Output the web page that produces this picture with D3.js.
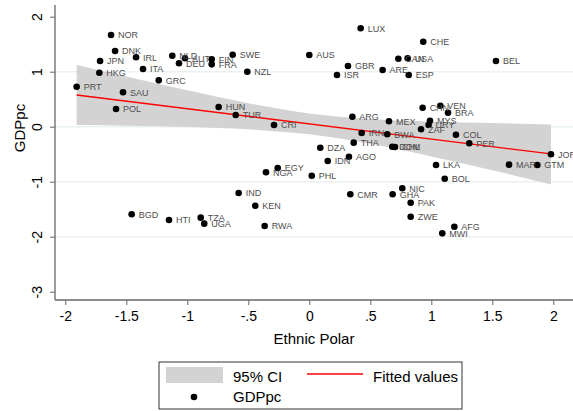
<!DOCTYPE html>
<html>
<head>
<meta charset="utf-8">
<script src="https://d3js.org/d3.v7.min.js"></script>
<style>
  body { margin: 0; background: #fff; }
  text { font-family: "Liberation Sans", Arial, Helvetica, sans-serif; }
</style>
</head>
<body>
<script>

// country codes, ethnic polarisation (x) and GDP per capita (y)
let countries = ["NOR","DNK","JPN","HKG","IRL","ITA","GRC","PRT","SAU","POL",
  "NLD","AUT","DEU","FIN","FRA","SWE","NZL","HUN","TUR","CRI",
  "LUX","AUS","GBR","ISR","ARE","ESP","CAN","USA","CHE","BEL",
  "ARG","MEX","CHN","VEN","BRA","MYS","URY","ZAF","COL","PER",
  "JOR","IRN","BWA","THA","DZA","DOM","CHL","IDN","AGO","PHL",
  "LKA","BOL","MAR","GTM","CMR","GHA","NIC","PAK","EGY","NGA",
  "IND","KEN","BGD","HTI","TZA","UGA","RWA","ZWE","AFG","MWI"];
let ethnicPolar = [-1.625,-1.592,-1.715,-1.721,-1.420,-1.363,-1.234,-1.907,-1.527,-1.584,
  -1.123,-1.019,-1.068,-0.800,-0.800,-0.628,-0.508,-0.743,-0.603,-0.289,
  0.421,0.0,0.317,0.227,0.601,0.815,0.730,0.806,0.934,1.530,
  0.353,0.653,0.929,1.074,1.137,0.989,0.978,0.916,1.202,1.311,
  1.981,0.429,0.639,0.364,0.090,0.680,0.702,0.151,0.325,0.020,
  1.039,1.110,1.637,1.869,0.336,0.683,0.762,0.831,-0.259,-0.355,
  -0.579,-0.443,-1.456,-1.150,-0.890,-0.861,-0.366,0.831,1.189,1.090];
let gdppc = [1.667,1.376,1.195,0.982,1.262,1.049,0.843,0.727,0.625,0.322,
  1.291,1.244,1.153,1.225,1.134,1.309,1.000,0.358,0.213,0.031,
  1.789,1.304,1.104,0.940,1.031,0.940,1.236,1.244,1.545,1.195,
  0.182,0.100,0.345,0.382,0.255,0.109,0.031,-0.047,-0.145,-0.302,
  -0.502,-0.115,-0.138,-0.290,-0.382,-0.364,-0.370,-0.624,-0.545,-0.891,
  -0.696,-0.945,-0.690,-0.696,-1.229,-1.229,-1.120,-1.382,-0.751,-0.829,
  -1.205,-1.436,-1.593,-1.696,-1.654,-1.763,-1.805,-1.636,-1.818,-1.939];

// fitted line end points and 95% CI band
let fitX = [-1.907, 1.981];
let fitY = [0.576, -0.494];
let ciX = [-1.907, -1.5, -1, -0.5, 0, 0.5, 1, 1.5, 1.981];
let ciLow = [0.032, 0.019, -0.005, -0.047, -0.138, -0.311, -0.540, -0.790, -1.050];
let ciHigh = [1.120, 0.913, 0.661, 0.427, 0.242, 0.139, 0.092, 0.066, 0.040];

let xTicks = [-2, -1.5, -1, -0.5, 0, 0.5, 1, 1.5, 2];
let xTickLabels = ["-2", "-1.5", "-1", "-.5", "0", ".5", "1", "1.5", "2"];
let yTicks = [-3, -2, -1, 0, 1, 2];
let yTickLabels = ["-3", "-2", "-1", "0", "1", "2"];
let yGrid = [-2, -1, 0, 1];

let width = 573, height = 411;
let plotLeft = 55, plotTop = 5, plotBottom = 300;

var x = d3.scaleLinear().domain([-2, 2]).range([65.3, 553.3]);
var y = d3.scaleLinear().domain([-3, 2]).range([291.7, 16.7]);

var svg = d3.select("body").append("svg").attr("width", width).attr("height", height);

// grid lines
svg.append("g").selectAll("line").data(yGrid).enter().append("line")
  .attr("x1", plotLeft).attr("x2", width)
  .attr("y1", d => y(d)).attr("y2", d => y(d))
  .attr("stroke", "#eaf2f3").attr("stroke-width", 1.5);

// CI band
var band = ciX.map((d, i) => ({x: d, lo: ciLow[i], hi: ciHigh[i]}));
svg.append("path").datum(band)
  .attr("d", d3.area().x(d => x(d.x)).y0(d => y(d.lo)).y1(d => y(d.hi)).curve(d3.curveMonotoneX))
  .attr("fill", "#d3d3d3");

// fitted line
svg.append("path").datum(fitX.map((d, i) => [d, fitY[i]]))
  .attr("d", d3.line().x(d => x(d[0])).y(d => y(d[1])))
  .attr("stroke", "#ff0000").attr("stroke-width", 1.3).attr("fill", "none");

// points + labels
var pts = countries.map((c, i) => ({name: c, x: ethnicPolar[i], y: gdppc[i]}));
svg.append("g").selectAll("circle").data(pts).enter().append("circle")
  .attr("cx", d => x(d.x)).attr("cy", d => y(d.y)).attr("r", 3.3)
  .attr("fill", "#000");
svg.append("g").selectAll("text").data(pts).enter().append("text")
  .attr("x", d => x(d.x) + 7).attr("y", d => y(d.y) + 3.3)
  .attr("font-size", "9px").attr("fill", "#4d4d4d")
  .text(d => d.name);

// axes
var xAxis = svg.append("g").attr("transform", "translate(0," + plotBottom + ")")
  .call(d3.axisBottom(x).tickValues(xTicks).tickSize(5).tickPadding(6)
    .tickFormat((d, i) => xTickLabels[i]));
xAxis.select(".domain").remove();
xAxis.selectAll("line").attr("stroke", "#666");
xAxis.selectAll("text").attr("font-size", "14px").attr("fill", "#000")
  .style("font-family", "'Liberation Sans', Arial, sans-serif");

var yAxis = svg.append("g").attr("transform", "translate(" + plotLeft + ",0)")
  .call(d3.axisLeft(y).tickValues(yTicks).tickSize(5).tickPadding(0)
    .tickFormat((d, i) => yTickLabels[i]));
yAxis.select(".domain").remove();
yAxis.selectAll("line").attr("stroke", "#666");
yAxis.selectAll("text")
  .attr("x", -13).attr("dy", 0).attr("transform", "rotate(-90," + (-13) + ",0)")
  .attr("text-anchor", "middle")
  .attr("font-size", "14px").attr("fill", "#000")
  .style("font-family", "'Liberation Sans', Arial, sans-serif");
yAxis.selectAll(".tick text").attr("y", 0);

svg.append("line").attr("x1", plotLeft).attr("x2", width)
  .attr("y1", plotBottom).attr("y2", plotBottom)
  .attr("stroke", "#666").attr("stroke-width", 1.3);
svg.append("line").attr("x1", plotLeft).attr("x2", plotLeft)
  .attr("y1", plotTop).attr("y2", plotBottom)
  .attr("stroke", "#666").attr("stroke-width", 1.3);

// axis titles
svg.append("text").attr("x", 314).attr("y", 344).attr("text-anchor", "middle")
  .attr("font-size", "15px").text("Ethnic Polar");
svg.append("text").attr("transform", "translate(25,128) rotate(-90)")
  .attr("text-anchor", "middle").attr("font-size", "15px").text("GDPpc");

// legend
var lg = svg.append("g");
lg.append("rect").attr("x", 159).attr("y", 362).attr("width", 303).attr("height", 47)
  .attr("fill", "#fff").attr("stroke", "#333").attr("stroke-width", 1);
lg.append("rect").attr("x", 166).attr("y", 367).attr("width", 57).attr("height", 16)
  .attr("fill", "#d3d3d3");
lg.append("text").attr("x", 233).attr("y", 382).attr("font-size", "15px").text("95% CI");
lg.append("line").attr("x1", 307).attr("x2", 363).attr("y1", 374).attr("y2", 374)
  .attr("stroke", "#ff0000").attr("stroke-width", 1.3);
lg.append("text").attr("x", 373).attr("y", 382).attr("font-size", "15px").text("Fitted values");
lg.append("circle").attr("cx", 194).attr("cy", 397).attr("r", 3.3).attr("fill", "#000");
lg.append("text").attr("x", 233).attr("y", 402).attr("font-size", "15px").text("GDPpc");

</script>
</body>
</html>
